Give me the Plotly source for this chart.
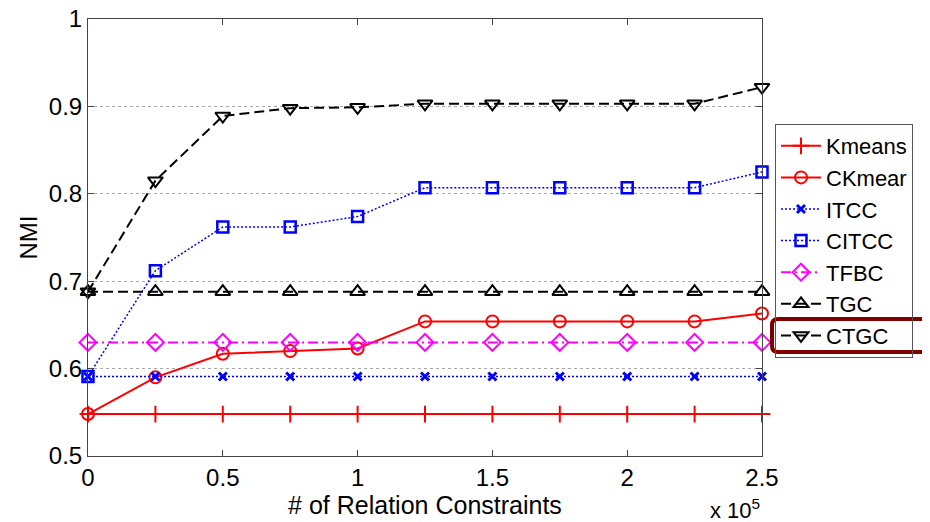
import plotly.graph_objects as go

x_vals = [0, 25000, 50000, 75000, 100000, 125000, 150000, 175000, 200000, 225000, 250000]
kmeans = [0.548] * 11
ckmeans = [0.548, 0.590, 0.617, 0.620, 0.623, 0.654, 0.654, 0.654, 0.654, 0.654, 0.663]
itcc = [0.591] * 11
citcc = [0.591, 0.712, 0.762, 0.762, 0.774, 0.807, 0.807, 0.807, 0.807, 0.807, 0.825]
tfbc = [0.630] * 11
tgc = [0.688] * 11
ctgc = [0.688, 0.815, 0.889, 0.898, 0.899, 0.903, 0.903, 0.903, 0.903, 0.903, 0.922]

x_tickvals = [0, 50000, 100000, 150000, 200000, 250000]
x_ticktext = ["0", "0.5", "1", "1.5", "2", "2.5"]
y_tickvals = [0.5, 0.6, 0.7, 0.8, 0.9, 1.0]
y_ticktext = ["0.5", "0.6", "0.7", "0.8", "0.9", "1"]

FONT = "Liberation Sans, Arial, sans-serif"

series = [
    ("Kmeans", kmeans, "#ff0000", "solid", 2, "cross-thin", 12, 2),
    ("CKmear", ckmeans, "#ff0000", "solid", 2, "circle-open", 12, 2),
    ("ITCC", itcc, "#0000ff", "2px,2px", 1.5, "x-thin", 8, 3),
    ("CITCC", citcc, "#0000ff", "2px,2px", 1.5, "square-open", 11, 2.5),
    ("TFBC", tfbc, "#ff00ff", "10px,4px,2px,4px", 2, "diamond-open", 13, 2),
    ("TGC", tgc, "#000000", "10px,5px", 2, "triangle-up-open", 13, 2),
    ("CTGC", ctgc, "#000000", "10px,5px", 2, "triangle-down-open", 13, 2),
]

fig = go.Figure()
for name, ys, color, dash, lw, sym, msize, mlw in series:
    fig.add_trace(go.Scatter(
        x=x_vals, y=ys, name=name, mode="lines+markers",
        line=dict(color=color, width=lw, dash=dash),
        marker=dict(symbol=sym, size=msize, color=color,
                    line=dict(color=color, width=mlw)),
        cliponaxis=False,
    ))

# page body has an 8px default margin; compensate so the plot lands where the reference has it
OFF = 8
W, H = 930 - OFF, 522 - OFF
PL, PR, PT, PB = 88, 762, 19, 456          # plot box in window pixels
L, T = PL - OFF, PT - OFF
pw, ph = PR - PL, PB - PT
R, B = W - L - pw, H - T - ph

def px2paper(px, py):
    return (px - PL) / pw, (PB - py) / ph

def rounded_rect(x0, y0, x1, y1, r):
    def P(px, py):
        a, b = px2paper(px, py)
        return f"{a:.5f},{b:.5f}"
    return (f"M {P(x0 + r, y0)} L {P(x1 - r, y0)} Q {P(x1, y0)} {P(x1, y0 + r)} "
            f"L {P(x1, y1 - r)} Q {P(x1, y1)} {P(x1 - r, y1)} "
            f"L {P(x0 + r, y1)} Q {P(x0, y1)} {P(x0, y1 - r)} "
            f"L {P(x0, y0 + r)} Q {P(x0, y0)} {P(x0 + r, y0)} Z")

fig.update_layout(
    width=W, height=H,
    margin=dict(l=L, r=R, t=T, b=B, autoexpand=False),
    paper_bgcolor="white", plot_bgcolor="white",
    font=dict(family=FONT, size=24, color="black"),
    showlegend=True,
    legend=dict(xref="container", yref="container",
                x=(775 - OFF) / W, y=1 - (124 - OFF) / H, xanchor="left", yanchor="top",
                bordercolor="#555555", borderwidth=1, bgcolor="rgba(255,255,255,0)",
                font=dict(family=FONT, size=22, color="black"),
                tracegroupgap=0, itemwidth=40),
    xaxis=dict(
        range=[0, 250000], tickvals=x_tickvals, ticktext=x_ticktext,
        showgrid=False, zeroline=False, automargin=False,
        showline=True, linecolor="#444444", linewidth=1, mirror="allticks",
        ticks="inside", ticklen=6, tickcolor="#444444",
        tickfont=dict(size=24), ticklabeloverflow="allow",
        title=dict(text="# of Relation Constraints", font=dict(size=25), standoff=0),
    ),
    yaxis=dict(
        range=[0.5, 1.0], tickvals=y_tickvals, ticktext=y_ticktext,
        showgrid=True, gridcolor="#aaaaaa", gridwidth=1, griddash="dot",
        zeroline=False, automargin=False,
        showline=True, linecolor="#444444", linewidth=1, mirror="allticks",
        ticks="inside", ticklen=6, tickcolor="#444444",
        tickfont=dict(size=24), ticklabeloverflow="allow",
        title=dict(text="NMI", font=dict(size=24), standoff=4),
    ),
    annotations=[dict(
        xref="paper", yref="paper", x=1.0, y=(PB - 493) / ph,
        xanchor="right", yanchor="top",
        text="x 10<sup>5</sup>", showarrow=False, font=dict(size=22),
    )],
    shapes=[dict(type="path", xref="paper", yref="paper",
                 path=rounded_rect(772, 319, 928, 352, 6),
                 line=dict(color="#800000", width=4))],
)

fig.write_html("out.html")
